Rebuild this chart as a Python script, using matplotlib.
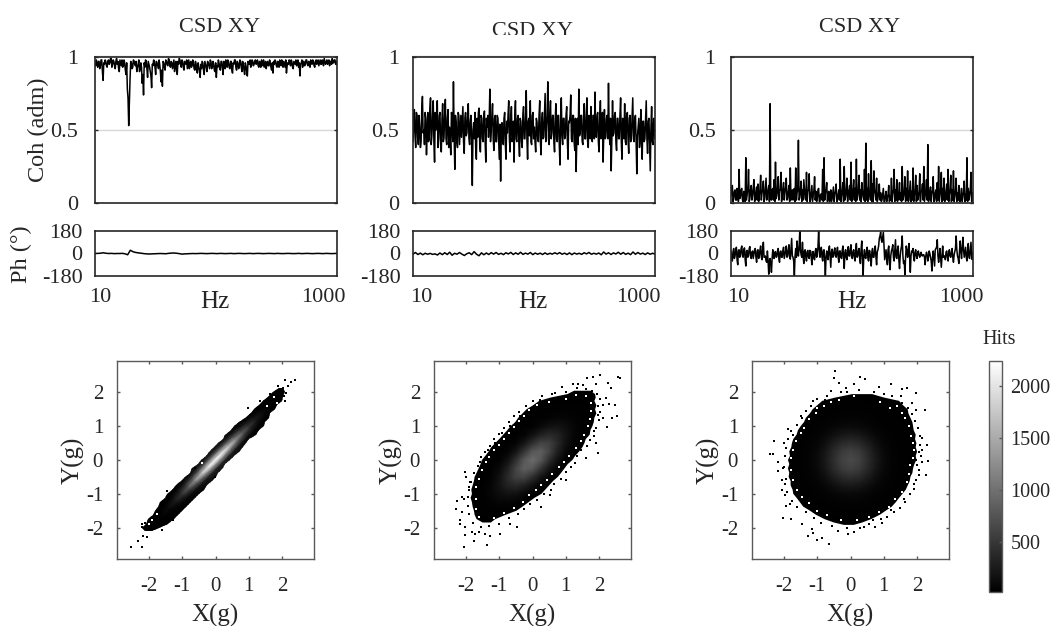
import numpy as np
import matplotlib
matplotlib.use('Agg')
import matplotlib.pyplot as plt
from matplotlib.colors import Normalize
from matplotlib.patches import Polygon
from matplotlib.transforms import ScaledTranslation, Bbox, TransformedBbox

plt.rcParams['font.family'] = ['Liberation Serif', 'DejaVu Serif']

W, H = 1051, 626
INK = '#262626'
FRAME = '#5a5a5a'

# coherence (left to right)
coh_a = [.96,.98,.93,.97,.94,.98,.84,.95,.97,.93,.98,.96,.99,.95,.97,.92,.99,.97,.90,.96,
         .98,.94,.96,.88,.78,.53,.85,.96,.93,.97,.94,.90,.95,.90,.96,.82,.74,.93,.97,.86,
         .95,.90,.79,.94,.97,.88,.96,.92,.95,.83,.80,.96,.91,.97,.94,.98,.93,.96,.95,.90,
         .97,.88,.95,.98,.93,.97,.91,.96,.98,.95,.92,.97,.94,.96,.91,.95,.89,.93,.86,.92,
         .96,.88,.95,.90,.96,.92,.97,.93,.95,.90,.86,.93,.96,.91,.97,.88,.95,.98,.93,.96,
         .92,.97,.89,.95,.98,.91,.96,.93,.97,.90,.95,.88,.94,.87,.96,.98,.94,.97,.95,.98,
         .96,.94,.97,.93,.96,.98,.95,.92,.97,.94,.96,.91,.89,.95,.97,.93,.96,.98,.94,.96,
         .97,.93,.89,.96,.98,.94,.97,.92,.96,.98,.95,.93,.87,.96,.93,.97,.95,.98,.94,.96,
         .98,.95,.97,.93,.98,.96,.94,.98,.95,.97,.99,.95,.98,.96,.94,.97,.99,.96,.98,.95]
coh_a2 = [.94,.95,.97,.92,.98,.90,.96,.98,.94,.97,.95,.99,.93,.98,.94,.97,.95,.92,.98,.94,
          .93,.98,.91,.96,.72,.70,.97,.92,.98,.95,.97,.93,.98,.92,.93,.88,.96,.98,.92,.97,
          .93,.87,.95,.98,.93,.97,.94,.98,.90,.91,.97,.93,.98,.95,.99,.94,.97,.92,.98,.94,
          .92,.97,.99,.95,.98,.93,.97,.95,.92,.98,.95,.93,.98,.92,.97,.90,.96,.91,.95,.97,
          .91,.97,.93,.97,.94,.98,.92,.97,.91,.96,.94,.98,.92,.97,.93,.97,.92,.95,.98,.93,
          .97,.91,.96,.98,.93,.97,.92,.98,.93,.97,.91,.96,.90,.97,.95,.93,.98,.94,.97,.95,
          .98,.93,.96,.98,.94,.93,.97,.96,.94,.98,.93,.96,.97,.98,.94,.97,.93,.95,.98,.93,
          .95,.98,.94,.95,.97,.98,.93,.97,.95,.94,.98,.96,.95,.98,.97,.94,.98,.95,.97,.93,
          .96,.98,.94,.97,.95,.98,.96,.95,.98,.94,.97,.96,.95,.98,.97,.95,.96,.98,.95,.97]
coh_b = [.42,.64,.38,.60,.40,.52,.42,.73,.50,.62,.33,.62,.44,.72,.46,.70,.28,.50,.70,.44,
         .62,.35,.68,.45,.71,.40,.64,.52,.33,.60,.83,.23,.55,.38,.60,.50,.45,.66,.34,.62,
         .48,.68,.40,.60,.12,.55,.62,.30,.45,.65,.35,.58,.42,.63,.28,.52,.45,.78,.50,.68,
         .36,.60,.42,.58,.30,.15,.55,.40,.62,.30,.48,.70,.35,.66,.45,.28,.70,.42,.60,.32,
         .56,.38,.66,.44,.77,.30,.58,.70,.40,.62,.52,.35,.55,.42,.70,.33,.62,.45,.75,.52,
         .83,.40,.70,.48,.60,.35,.68,.42,.60,.26,.72,.40,.58,.46,.66,.30,.55,.74,.42,.60,
         .36,.215,.58,.78,.48,.60,.40,.68,.44,.72,.38,.56,.66,.42,.60,.76,.45,.62,.35,.70,
         .50,.28,.64,.45,.60,.82,.40,.22,.70,.48,.62,.36,.58,.44,.72,.30,.55,.68,.40,.62,
         .34,.60,.46,.72,.42,.60,.20,.52,.38,.64,.30,.56,.44,.70,.34,.58,.22,.66,.40,.50]
coh_b2 = [.55,.46,.62,.44,.60,.38,.64,.48,.40,.58,.50,.42,.64,.40,.60,.42,.62,.56,.38,.60,
          .40,.58,.42,.62,.44,.58,.38,.46,.62,.42,.48,.60,.42,.62,.40,.60,.56,.42,.58,.46,
          .60,.44,.56,.40,.50,.44,.38,.58,.62,.40,.60,.44,.60,.42,.58,.60,.56,.42,.60,.44,
          .58,.42,.60,.44,.54,.50,.42,.58,.40,.56,.60,.44,.58,.42,.56,.60,.44,.58,.42,.58,
          .42,.60,.44,.58,.44,.56,.46,.42,.60,.44,.42,.58,.44,.60,.42,.56,.44,.60,.42,.60,
          .44,.62,.44,.60,.42,.58,.44,.60,.40,.56,.46,.58,.44,.60,.42,.56,.60,.44,.60,.42,
          .58,.44,.40,.46,.60,.42,.58,.44,.60,.42,.60,.44,.46,.60,.44,.46,.60,.42,.58,.44,
          .62,.48,.44,.58,.44,.50,.58,.44,.46,.60,.42,.58,.44,.60,.42,.58,.44,.42,.60,.44,
          .58,.42,.60,.44,.58,.42,.46,.58,.44,.42,.56,.42,.58,.44,.56,.40,.52,.42,.58,.44]
coh_c = [.05,.12,.03,.09,.02,.08,.23,.04,.10,.01,.07,.31,.06,.23,.03,.12,.05,.16,.02,.11,
         .13,.04,.19,.07,.15,.03,.17,.08,.12,.68,.02,.10,.16,.28,.05,.18,.09,.21,.04,.14,
         .07,.17,.03,.12,.24,.06,.02,.10,.24,.07,.43,.04,.15,.09,.16,.03,.21,.08,.20,.02,
         .12,.05,.18,.08,.03,.10,.01,.06,.23,.31,.07,.14,.04,.01,.09,.03,.11,.06,.13,.02,
         .09,.30,.05,.14,.25,.04,.17,.08,.12,.28,.03,.16,.10,.30,.05,.19,.09,.14,.04,.23,
         .41,.10,.20,.05,.29,.13,.22,.06,.17,.03,.13,.07,.02,.10,.01,.08,.03,.12,.05,.17,
         .06,.23,.09,.16,.03,.14,.07,.25,.04,.18,.10,.22,.02,.15,.08,.24,.05,.19,.12,.03,
         .20,.07,.13,.25,.05,.16,.40,.03,.11,.06,.18,.02,.09,.14,.25,.05,.21,.10,.17,.02,
         .13,.23,.06,.19,.09,.22,.04,.17,.07,.12,.01,.10,.04,.15,.06,.31,.10,.05,.21,.07]
coh_c2 = [.10,.01,.08,.02,.10,.01,.03,.09,.02,.08,.01,.02,.10,.01,.09,.02,.10,.01,.08,.02,
          .01,.10,.02,.09,.01,.10,.02,.09,.01,.03,.09,.02,.01,.03,.10,.02,.09,.01,.10,.02,
          .11,.02,.08,.01,.02,.09,.08,.01,.02,.09,.02,.09,.01,.02,.09,.02,.01,.09,.01,.07,
          .01,.09,.02,.01,.09,.01,.06,.02,.01,.02,.09,.01,.08,.02,.01,.07,.01,.08,.01,.06,
          .02,.01,.08,.01,.02,.09,.01,.09,.02,.01,.09,.02,.01,.02,.09,.02,.01,.08,.02,.01,
          .02,.01,.08,.02,.01,.01,.09,.02,.01,.07,.02,.01,.06,.01,.05,.01,.06,.01,.02,.01,
          .09,.01,.02,.01,.08,.02,.01,.02,.08,.01,.02,.01,.09,.01,.02,.01,.08,.01,.02,.08,
          .01,.08,.02,.01,.09,.02,.01,.08,.01,.09,.01,.07,.01,.02,.01,.09,.01,.02,.01,.08,
          .02,.01,.09,.01,.02,.01,.08,.01,.02,.01,.06,.01,.08,.01,.02,.01,.02,.09,.01,.04]

# phase, degrees
ph_a = [0,1,2,6,2,0,1,-1,0,0,1,-2,-10,26,14,8,5,2,-1,-3,-4,-3,-2,-1,0,-1,-2,1,3,4,2,-1,-5,-3,-2,
        -1,0,-1,0,1,0,-1,0,1,0,-1,1,0,-1,0,1,-1,0,1,0,-1,0,1,-1,0,1,0,-1,0,1,0,-1,1,0,-1,
        0,1,0,-1,0,1,-1,0,1,0,-1,0,1,0,-1,1,0,-1,0,1]
ph_b = [-5,8,-8,3,-10,2,-6,1,-7,-3,-12,4,-9,6,-8,10,-14,2,-6,8,-5,-16,-2,6,-9,15,-6,-18,5,-10,
        4,-8,7,-5,8,-7,2,-9,6,-4,9,-8,5,-6,10,-7,3,-5,8,-9,4,-6,3,-8,5,-7,2,-5,6,-4,
        7,-6,3,-8,5,-9,4,-5,2,-7,6,-3,8,-6,2,-5,4,-10,12,-5,6,-8,5,-4,10,-6,8,-7,3,-9,
        12,-6,8,-5,3,-8,5,-6,2,-5]
ph_c = [20,-60,40,-20,50,-90,30,-10,60,-30,45,-100,25,-15,55,-40,20,-5,40,-70,
        30,-20,60,-50,90,-30,-60,20,-165,-40,-150,30,-40,15,-25,40,-70,20,-30,50,
        -10,60,-20,70,-45,120,-30,-180,40,100,-20,180,-10,90,-80,30,-60,25,-40,20,
        -90,15,-50,40,-20,180,-30,50,-60,30,-180,20,-50,60,-110,35,-20,45,-30,50,
        -70,20,-40,60,-120,30,-50,55,-20,70,-40,30,-60,80,-20,40,-80,100,-180,30,
        -40,50,-60,20,-100,40,-30,60,-90,30,120,170,90,170,-50,30,-90,60,-130,20,
        70,-60,110,-40,60,-120,30,140,-80,-170,60,-30,80,-150,20,40,-60,30,-40,20,
        -30,10,-20,-10,-90,10,-60,20,-30,-140,20,-100,40,110,-70,40,-110,60,-20,-50,
        20,-60,30,-30,40,-70,15,140,-20,-80,100,-40,130,-30,50,-60,80,-40,90,-50]
ph_c2 = [-30,15,-40,30,-50,25,-30,40,-20,30,-50,20,-30,40,-20,10,-40,30,-30,20,
         -40,30,-30,40,-30,-20,-70,-60,-60,-90,-40,-20,10,-30,20,-40,15,-30,25,-40,
         20,-30,30,-30,40,-20,-60,-20,-30,25,40,30,-30,-20,20,-30,15,-30,25,-30,
         15,-40,20,-30,50,40,20,-30,25,-50,-30,-30,30,-30,10,-30,20,-20,15,-30,
         20,-30,25,-40,10,-30,25,-20,35,-30,15,-30,30,-30,20,-50,35,-40,-20,-30,
         15,-30,25,-50,15,-30,25,-30,15,60,140,110,130,60,-10,-40,30,-60,-20,40,
         -30,30,-30,30,-50,-20,60,-20,-60,-30,20,30,-40,-20,10,-30,10,-20,10,-15,
         -5,-15,-10,-30,-20,-10,-25,0,-60,-30,-40,30,50,-20,-20,-30,-20,-30,-20,10,
         -30,10,-20,10,-30,-10,40,30,-40,20,20,50,30,10,-30,20,-30,30,-20,10]

coh_ticks = [0, 0.5, 1]
coh_labels = ['0', '0.5', '1']
ph_ticks = [-180, 0, 180]
ph_labels = ['-180', '0', '180']
hz_ticks = [10, 1000]
hz_labels = ['10', '1000']
xy_ticks = [-2, -1, 0, 1, 2]
xy_labels = ['-2', '-1', '0', '1', '2']
cbar_ticks = [500, 1000, 1500, 2000]

# narrow cloud: hits along the diagonal (rows) and across it (columns, x-y in g)
ridge_u = [-2.2,-2,-1.8,-1.6,-1.4,-1.2,-1,-.8,-.6,-.4,-.2,0,.2,.4,.6,.8,1,1.2,1.4,1.6,1.8,2,2.2]
ridge_v = [-.6,-.3,-.15,0,.15,.3,.6]
ridge_hits = [[25,25,25,25,25,25,25], [25,25,25,26,25,25,25], [25,25,26,30,26,25,25],
              [25,25,33,60,33,25,25], [25,28,72,130,72,28,25], [25,40,150,270,150,40,25],
              [25,75,275,500,275,75,25], [25,128,468,850,468,128,25], [26,195,715,1300,715,195,26],
              [30,262,960,1750,960,262,30], [35,315,1155,2100,1155,315,35], [36,330,1210,2200,1210,330,36],
              [35,315,1155,2100,1155,315,35], [30,262,960,1750,960,262,30], [26,195,715,1300,715,195,26],
              [25,128,468,850,468,128,25], [25,75,275,500,275,75,25], [25,40,150,270,150,40,25],
              [25,28,72,130,72,28,25], [25,25,33,60,33,25,25], [25,25,26,30,26,25,25],
              [25,25,25,26,25,25,25], [25,25,25,25,25,25,25]]

# wide clouds: hits per 0.25 g cell, one row per y: (y, first x, counts)
hits_b = [(2.0,1.25,[28,28,26]), (1.75,.25,[28,28,28,28,28,28,28]),
          (1.5,0,[28,30,30,30,30,30,30,28]), (1.25,-.25,[28,30,30,45,68,68,45,30,28]),
          (1.0,-.5,[28,30,37,94,160,180,136,68,30,26]), (.75,-.75,[28,30,53,153,293,374,318,180,68,30]),
          (.5,-1,[28,30,60,195,422,608,585,374,160,45,26]),
          (.25,-1.25,[28,30,53,195,476,775,840,608,293,94,30]),
          (0,-1.5,[28,30,37,153,422,775,950,775,422,153,37,24]),
          (-.25,-1.5,[28,30,94,293,608,840,775,476,195,53,30]),
          (-.5,-1.5,[26,45,160,374,585,608,422,195,60,28]),
          (-.75,-1.75,[26,30,68,180,318,374,293,153,53,28]),
          (-1,-1.75,[26,30,68,136,180,160,94,37,26]), (-1.25,-1.75,[26,30,45,68,68,45,28]),
          (-1.5,-1.75,[26,30,30,30,30,26]), (-1.75,-1.75,[26,28,26])]
hits_c = [(1.75,-.75,[28,28,30,30,30,28,28,28,28,26]),
          (1.5,-1,[30,30,32,33,34,33,32,30,30,28,26,24]),
          (1.25,-1.25,[30,32,36,42,48,50,48,42,36,32,30,28,26]),
          (1.0,-1.5,[30,32,38,50,70,95,105,95,70,50,38,32,30,28]),
          (.75,-1.5,[30,36,50,85,150,215,240,215,150,85,50,36,30,28,24]),
          (.5,-1.75,[30,32,42,70,150,270,380,420,380,270,150,70,42,32,30,25]),
          (.25,-1.75,[30,33,48,95,215,380,530,590,530,380,215,95,48,33,30,26]),
          (0,-1.75,[30,34,50,105,240,420,590,650,590,420,240,105,50,34,30,25]),
          (-.25,-1.75,[30,33,48,95,215,380,530,590,530,380,215,95,48,33,30]),
          (-.5,-1.75,[30,32,42,70,150,270,380,420,380,270,150,70,42,32,28]),
          (-.75,-1.75,[28,30,36,50,85,150,215,240,215,150,85,50,36,30,24]),
          (-1,-1.75,[22,30,32,38,50,70,95,105,95,70,50,38,32,30]),
          (-1.25,-1.5,[26,30,32,36,42,48,50,48,42,36,32,30,22]),
          (-1.5,-1.25,[24,30,30,32,33,34,33,32,30,30]),
          (-1.75,-.75,[25,28,30,30,30,28])]

# outline of each cloud, per y: (y, left x, right x)
edge_a = [(2.12,1.9,2.02),(2.0,1.72,2.1),(1.88,1.62,2.02),(1.75,1.43,2.0),(1.62,1.32,1.86),(1.5,1.15,1.78),
          (1.38,1.06,1.64),(1.25,.88,1.62),(1.12,.72,1.5),(1,.56,1.45),(.88,.46,1.3),(.75,.3,1.22),
          (.62,.22,1.02),(.5,.08,.92),(.38,-.04,.84),(.25,-.2,.7),(.12,-.28,.56),(0,-.44,.44),
          (-.12,-.54,.3),(-.25,-.7,.22),(-.38,-.76,.08),(-.5,-.92,0),(-.62,-1.04,-.1),(-.75,-1.2,-.25),
          (-.88,-1.3,-.36),(-1,-1.46,-.5),(-1.12,-1.52,-.62),(-1.25,-1.66,-.75),(-1.38,-1.72,-.9),
          (-1.5,-1.82,-1),(-1.62,-1.88,-1.12),(-1.75,-2.02,-1.25),(-1.88,-2.1,-1.42),(-2,-2.2,-1.7),
          (-2.1,-2.12,-1.9)]
edge_b = [(2.05,1.25,1.75),(1.95,1.05,1.88),(1.85,.55,1.9),(1.75,.2,1.86),(1.62,.02,1.92),(1.5,-.18,1.88),
          (1.38,-.3,1.92),(1.25,-.43,1.86),(1.12,-.52,1.84),(1,-.66,1.8),(.88,-.76,1.74),(.75,-.88,1.72),
          (.62,-1.0,1.6),(.5,-1.12,1.56),(.38,-1.24,1.5),(.25,-1.32,1.4),(.12,-1.42,1.28),(0,-1.52,1.2),
          (-.12,-1.56,1.06),(-.25,-1.62,.96),(-.38,-1.68,.86),(-.5,-1.74,.76),(-.62,-1.76,.62),(-.75,-1.8,.5),
          (-.88,-1.84,.38),(-1,-1.82,.27),(-1.12,-1.86,.06),(-1.25,-1.82,-.12),(-1.38,-1.8,-.3),
          (-1.5,-1.76,-.48),(-1.62,-1.74,-.8),(-1.75,-1.68,-1.12),(-1.85,-1.5,-1.25)]
edge_c = [(1.95,.05,.65),(1.85,-.45,1.0),(1.75,-.85,1.46),(1.62,-1.0,1.58),(1.5,-1.14,1.72),(1.38,-1.22,1.74),
          (1.25,-1.34,1.8),(1.12,-1.4,1.86),(1,-1.5,1.88),(.88,-1.58,1.9),(.75,-1.62,1.96),(.62,-1.72,1.94),
          (.5,-1.76,1.98),(.38,-1.78,1.96),(.25,-1.84,2.0),(.12,-1.82,1.96),(0,-1.88,1.98),(-.12,-1.84,1.92),
          (-.25,-1.88,1.88),(-.38,-1.84,1.86),(-.5,-1.86,1.8),(-.62,-1.8,1.78),(-.75,-1.8,1.72),(-.88,-1.74,1.66),
          (-1,-1.72,1.56),(-1.12,-1.62,1.46),(-1.25,-1.52,1.36),(-1.38,-1.42,1.24),(-1.5,-1.22,1.06),
          (-1.62,-1.04,.88),(-1.75,-.78,.62),(-1.85,-.5,.35),(-1.92,-.2,.1)]

# lone occupied bins outside the clouds (x, y in g)
spk_a = [(2.4,2.36),(2.28,2.32),(2.1,2.36),(2.18,2.19),(2.03,2.14),(1.88,2.19),(2.13,1.99),(2.08,1.74),
         (1.33,1.74),(.98,1.54),(-2.54,-2.58),(-2.34,-2.39),(-2.22,-2.58),(-2.07,-2.29),(-2.19,-2.25),
         (-2.07,-2.07),(-2.22,-1.97),(-2.12,-1.85),(-1.62,-2.07),(-1.97,-1.77),(-1.47,-.93),(-.62,-.24),
         (-.02,-.49),(-1.27,-1.77),(1.65,1.95),(2.05,1.9),(-2.2,-1.9)]
spk_b = [(2.56,2.46),(2.63,2.42),(2.04,2.52),(1.81,2.47),(1.63,2.42),(1.91,2.24),(2.26,2.29),(2.36,2.14),
         (1.21,2.24),(1.36,2.26),(1.51,2.22),(.89,2.17),(.67,1.99),(1.01,2.02),(.22,1.79),(.04,1.59),
         (-.18,1.42),(-.38,1.29),(-.5,1.09),(-.68,1.0),(-.93,.8),(-1.12,.5),(-1.35,.3),(-1.57,-.05),
         (-2.02,-.35),(-1.99,-.5),(-1.87,-.65),(-1.92,-.8),(-2.12,-1.09),(-2.27,-1.21),(-2.07,-1.14),
         (-2.3,-1.44),(-2.12,-1.54),(-2.19,-1.79),(-2.19,-1.89),(-2.02,-1.99),(-1.82,-2.14),(-2.02,-2.21),
         (-1.72,-2.19),(-1.62,-2.14),(-1.42,-2.19),(-1.29,-2.24),(-1.37,-2.51),(-2.07,-2.57),(-1.77,-2.39),
         (-.98,-2.19),(-.68,-1.89),(-.46,-1.99),(.27,-1.39),(.52,-1.04),(1.01,-.6),(1.61,.05),(1.96,.22),
         (2.24,.97),(2.11,1.24),(2.39,1.24),(2.54,1.31),(2.49,1.64),(2.31,1.66),(2.11,1.64),(2.21,1.84),
         (1.96,1.34),(1.86,.7),(1.91,.5),
         (1.0,2.0),(1.35,2.12),(1.6,2.1),(1.78,2.05),(1.95,1.95),(2.02,1.8),(1.98,1.6),(2.02,1.42),(2.0,1.18),
         (1.92,.95),(1.85,.85),(1.72,.6),(1.65,.42),(1.45,.3),(1.35,.12),(1.28,-.08),(1.15,-.2),(1.0,-.35),
         (.85,-.55),(.65,-.7),(.55,-.88),(.35,-1.0),(.15,-1.18),(-.08,-1.3),(-.25,-1.45),(-.45,-1.6),(-.7,-1.72),
         (-1.0,-1.88),(-1.3,-1.95),(-1.55,-1.98),(-1.8,-1.85),(-1.9,-1.6),(-1.95,-1.35),(-1.95,-1.1),(-1.92,-.9),
         (-1.85,-.65),(-1.75,-.38),(-1.65,-.18),(-1.55,.1),(-1.42,.25),(-1.28,.42),(-1.15,.62),(-1.0,.78),
         (-.85,.95),(-.72,1.12),(-.55,1.3),(-.4,1.42),(-.2,1.6),(0,1.75),(.3,1.88),(.6,1.95)]
spk_c = [(-.46,2.62),(-.51,2.44),(.3,2.47),(.44,2.39),(.12,2.24),(-.13,2.14),(-.35,2.27),(-.58,2.04),
         (.87,2.17),(1.21,2.24),(1.56,2.09),(1.71,2.14),(1.96,1.99),(1.26,1.89),(1.51,1.89),(1.86,1.69),
         (2.24,1.47),(1.96,1.49),(-1.12,1.74),(-.78,1.79),(-.92,1.59),(-1.47,1.24),(-1.87,.93),(-1.72,.75),
         (-2.01,.5),(-2.29,.57),(-2.42,.18),(-2.32,.18),(-2.17,-.07),(-2.17,-.32),(-2.02,-.25),(-2.07,-.6),
         (-1.97,-.7),(-2.07,-.9),(-1.97,-1.04),(-1.82,-1.29),(-1.94,-1.36),(-2.04,-1.72),(-1.79,-1.74),
         (-1.47,-1.89),(-1.17,-2.04),(-1.12,-2.16),(-1.29,-2.24),(-1.02,-2.37),(-.85,-2.31),(-.65,-2.49),
         (-.38,-2.09),(-.08,-2.19),(.1,-2.14),(.42,-1.99),(.75,-1.99),(.67,-1.79),(.92,-1.74),(1.21,-1.49),
         (1.61,-1.14),(1.91,-.85),(2.06,-.3),(2.28,-.43),(2.34,-.02),(2.31,.43),(2.16,.65),(2.06,.25),
         (1.96,0),(2.01,-.15),
         (-.3,2.0),(-.1,2.0),(.25,2.08),(.7,2.0),(1.0,1.95),(1.3,1.75),(1.55,1.7),(1.72,1.55),(1.85,1.35),
         (1.95,1.15),(2.02,.95),(2.08,.7),(2.1,.45),(2.15,.3),(2.12,.12),(2.15,-.05),(2.05,-.45),(1.98,-.6),
         (1.9,-.72),(1.8,-1.0),(1.65,-1.25),(1.5,-1.42),(1.3,-1.55),(1.1,-1.68),(.95,-1.85),(.55,-1.9),(.3,-2.02),
         (-.1,-2.0),(-.55,-1.95),(-.9,-1.85),(-1.1,-1.72),(-1.35,-1.55),(-1.6,-1.4),(-1.75,-1.2),(-1.9,-.95),
         (-1.95,-.55),(-2.0,-.2),(-1.98,.12),(-1.95,.35),(-1.88,.62),(-1.8,.85),(-1.62,1.05),(-1.5,1.3),
         (-1.35,1.45),(-1.2,1.6),(-1.0,1.8),(-.7,1.9)]

# empty bins just inside the rim
gap_a = [(1.75,1.85),(1.85,1.7),(-1.9,-1.78),(-2.0,-1.9),(-1.75,-1.6),(1.55,1.6),(-1.85,-1.45),(-.4,-.1)]
gap_b = [(1.3,1.92),(1.6,1.88),(1.75,1.7),(1.75,1.45),(1.72,1.2),(1.68,1.0),(1.55,.75),(1.45,.55),(1.3,.35),
         (1.1,.12),(.95,-.05),(.8,-.2),(.6,-.42),(.45,-.6),(.25,-.75),(.1,-.9),(-.1,-1.05),(-.3,-1.25),
         (-.55,-1.42),(-.85,-1.58),(-1.15,-1.72),(-1.6,-1.7),(-1.7,-1.45),(-1.7,-1.15),(-1.7,-.8),(-1.62,-.55),
         (-1.52,-.3),(-1.4,-.05),(-1.3,.1),(-1.15,.3),(-1.0,.45),(-.85,.62),(-.72,.8),(-.55,.98),(-.4,1.15),
         (-.25,1.3),(-.1,1.48),(.15,1.62),(.5,1.72),(1.0,1.82)]
gap_c = [(-.6,1.72),(-.35,1.78),(.1,1.88),(.9,1.72),(1.2,1.55),(1.4,1.6),(1.55,1.4),(1.65,1.25),(1.75,1.0),
         (1.82,.72),(1.88,.5),(1.9,.3),(1.88,.05),(1.8,-.15),(1.75,-.4),(1.7,-.65),(1.55,-.95),(1.35,-1.15),
         (1.15,-1.4),(.85,-1.55),(.55,-1.7),(.2,-1.78),(-.3,-1.78),(-.7,-1.62),(-1.0,-1.5),(-1.25,-1.28),
         (-1.45,-1.1),(-1.6,-.9),(-1.72,-.6),(-1.78,-.3),(-1.8,.05),(-1.72,.3),(-1.65,.55),(-1.5,.8),(-1.4,.95),
         (-1.25,1.2),(-1.05,1.4),(-.8,1.6),(-1.0,1.55)]


def axes_px(left, top, right, bottom):
    return fig.add_axes([left / W, 1 - bottom / H, (right - left) / W, (bottom - top) / H])


def shift_label(label, dx, dy=0):
    label.set_transform(label.get_transform() + ScaledTranslation(dx / 100, dy / 100, fig.dpi_scale_trans))


def style_frame(ax, color, lw):
    for s in ax.spines.values():
        s.set_color(color)
        s.set_linewidth(lw)


fig = plt.figure(figsize=(W / 100, H / 100), dpi=100)

lefts = [95, 413, 731]
shifts = [(5, 3), (8, 0), (7, 5)]
title_x = [220, 533, 860]
title_y = [28, 31, 27]
hz_x = [215, 533, 852]
coh_pad = [12, 10, 11]
coh_all = [np.ravel(np.column_stack([coh_a, coh_a2])),
           np.ravel(np.column_stack([coh_b, coh_b2])),
           np.ravel(np.column_stack([coh_c, coh_c2]))]
ph_all = [ph_a, ph_b, np.ravel(np.column_stack([ph_c, ph_c2]))]

for i in range(3):
    left = lefts[i]
    right = left + 242

    ax = axes_px(left, 57, right, 203)
    freq = np.geomspace(10, 1400, len(coh_all[i]))
    ax.axhline(0.5, color='#d8d8d8', lw=1, zorder=1)
    ax.axhline(1.006, color='#c8c8c8', lw=1, clip_on=False, zorder=1)
    ax.plot(freq, coh_all[i], color='black', lw=1.1, zorder=2)
    ax.set_xscale('log')
    ax.set_xlim(10, 1400)
    ax.set_ylim(0, 1)
    ax.set_xticks([])
    ax.minorticks_off()
    ax.set_yticks(coh_ticks)
    ax.set_yticklabels(coh_labels)
    ax.tick_params(axis='y', direction='in', length=2, width=1, left=True, right=True,
                   labelsize=16, labelcolor=INK, color=INK, pad=coh_pad[i])
    style_frame(ax, INK, 1.2)
    if i == 0:
        ax.set_ylabel('Coh (adm)', fontsize=17.5, color=INK)
        ax.yaxis.set_label_coords((49 - left) / 242, (203 - 130) / 146)

    # second title is cut off in the source figure
    t = fig.text(title_x[i] / W, 1 - title_y[i] / H, 'CSD XY', fontsize=16, color=INK, ha='center', va='center')
    if i == 1:
        t.set_clip_box(TransformedBbox(Bbox([[0, 1 - 35 / H], [1, 1]]), fig.transFigure))
        t.set_clip_on(True)

    ax2 = axes_px(left, 231, right, 276)
    freq2 = np.geomspace(10, 1400, len(ph_all[i]))
    ax2.plot(freq2, ph_all[i], color='black', lw=1.1)
    ax2.set_xscale('log')
    ax2.set_xlim(10, 1400)
    ax2.set_ylim(-180, 180)
    ax2.set_xticks(hz_ticks)
    ax2.set_xticklabels(hz_labels)
    ax2.minorticks_off()
    ax2.set_yticks(ph_ticks)
    ax2.set_yticklabels(ph_labels)
    ax2.tick_params(axis='both', length=0, labelsize=16, labelcolor=INK)
    ax2.tick_params(axis='y', pad=9)
    ax2.tick_params(axis='x', pad=9)
    labs = ax2.get_xticklabels()
    shift_label(labs[0], shifts[i][0])
    shift_label(labs[1], shifts[i][1])
    style_frame(ax2, INK, 1.2)
    fig.text(hz_x[i] / W, 1 - 302 / H, 'Hz', fontsize=18, color=INK, ha='center', va='center')
    if i == 0:
        ax2.set_ylabel('Ph (°)', fontsize=17.5, color=INK)
        ax2.yaxis.set_label_coords((32 - left) / 242, (276 - 254) / 45)

# bottom row
cmap = plt.get_cmap('gray')
norm = Normalize(20, 2240)
centers = np.arange(-3, 3.01, 0.25)
sc_lefts = [117, 434, 752]
ylab_x = [85, 403, 720]
hits_all = [None, hits_b, hits_c]
edge_all = [edge_a, edge_b, edge_c]
spk_all = [spk_a, spk_b, spk_c]
gap_all = [gap_a, gap_b, gap_c]

for i in range(3):
    ax = axes_px(sc_lefts[i], 361, sc_lefts[i] + 197, 559)
    edge = edge_all[i]
    outline = [(e[1], e[0]) for e in edge] + [(e[2], e[0]) for e in reversed(edge)]
    clip = Polygon(outline, closed=True, transform=ax.transData)
    if i == 0:
        uu, vv = np.meshgrid(ridge_u, ridge_v, indexing='ij')
        im = ax.pcolormesh(uu + vv / 2, uu - vv / 2, np.array(ridge_hits), shading='gouraud',
                           cmap=cmap, norm=norm)
    else:
        grid = np.zeros((len(centers), len(centers)))
        for y, x0, counts in hits_all[i]:
            row = int(round((y + 3) / 0.25))
            col = int(round((x0 + 3) / 0.25))
            grid[row, col:col + len(counts)] = counts
        im = ax.imshow(grid, origin='lower', extent=[-3.125, 3.125, -3.125, 3.125], aspect='auto',
                       cmap=cmap, norm=norm, interpolation='bilinear', interpolation_stage='data')
    im.set_clip_path(clip)
    ax.scatter([p[0] for p in spk_all[i]], [p[1] for p in spk_all[i]], s=3, marker='s',
               color='black', linewidths=0)
    ax.scatter([p[0] for p in gap_all[i]], [p[1] for p in gap_all[i]], s=2.5, marker='s',
               color='white', linewidths=0)
    ax.set_xlim(-2.96, 2.96)
    ax.set_ylim(-2.93, 2.93)
    ax.set_xticks(xy_ticks)
    ax.set_xticklabels(xy_labels)
    ax.set_yticks(xy_ticks)
    ax.set_yticklabels(xy_labels)
    ax.tick_params(axis='both', direction='in', length=2, width=1, top=True, right=True,
                   labelsize=15, labelcolor=INK, color=FRAME, pad=10)
    ax.tick_params(axis='x', pad=13)
    style_frame(ax, FRAME, 1)
    ax.set_xlabel('X(g)', fontsize=18, color=INK)
    ax.xaxis.set_label_coords(0.5, -0.225)
    ax.set_ylabel('Y(g)', fontsize=18, color=INK)
    ax.yaxis.set_label_coords((ylab_x[i] - sc_lefts[i]) / 197, 0.5)

cax = axes_px(989, 361, 1002, 592)
cb = fig.colorbar(im, cax=cax)
cb.set_ticks(cbar_ticks)
cax.tick_params(direction='in', length=2, width=1, labelsize=14.5, labelcolor=INK, color=FRAME, pad=6)
cb.outline.set_edgecolor(FRAME)
cb.outline.set_linewidth(1)
fig.text(999 / W, 1 - 340 / H, 'Hits', fontsize=14.5, color=INK, ha='center', va='center')

fig.savefig('out.png', dpi=100)
